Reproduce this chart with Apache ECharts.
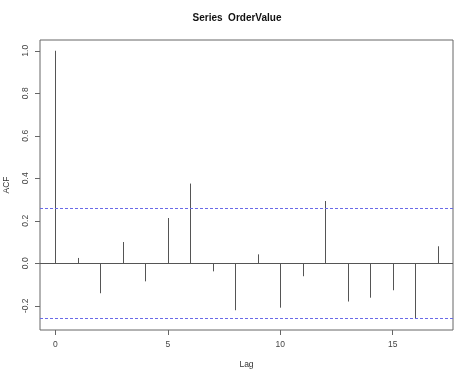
<!DOCTYPE html>
<html><head><meta charset="utf-8">
<script src="https://cdn.jsdelivr.net/npm/echarts@6/dist/echarts.min.js"></script>
<style>html,body{margin:0;padding:0;background:#fff}#c{width:474px;height:380px}</style>
</head><body><div id="c"></div>
<script>
var lags = [0,1,2,3,4,5,6,7,8,9,10,11,12,13,14,15,16,17];
var acfValues = [1.0,0.025,-0.141,0.100,-0.085,0.213,0.375,-0.038,-0.221,0.042,-0.209,-0.061,0.293,-0.180,-0.162,-0.127,-0.262,0.080];
var confLimit = 0.2643;
var xTicks = [0,5,10,15];
var yTicks = [-0.2,0,0.2,0.4,0.6,0.8,1.0];
var titleText = 'Series  OrderValue';

var chart = echarts.init(document.getElementById('c'), null, {renderer:'canvas'});
var font = 'Liberation Sans, Arial, sans-serif';
chart.setOption({
  animation:false,
  backgroundColor:'#fff',
  title:{text:titleText,left:'center',top:8,textStyle:{fontFamily:font,fontSize:10,fontWeight:'bold',color:'#111'}},
  grid:{left:40,right:21,top:40,bottom:50,show:true,borderColor:'#666',borderWidth:1,backgroundColor:'transparent',
    containLabel:false,outerBoundsMode:'none'},
  xAxis:{type:'value',min:-0.68,max:17.68,name:'Lag',nameLocation:'middle',nameGap:30,nameMoveOverlap:false,
    nameTextStyle:{fontFamily:font,fontSize:8.5,color:'#333'},
    axisLine:{show:false,onZero:false},splitLine:{show:false},
    axisTick:{show:true,inside:false,length:5,customValues:xTicks,lineStyle:{color:'#666'}},
    axisLabel:{customValues:xTicks,margin:10,fontFamily:font,fontSize:8.5,color:'#444'}},
  yAxis:{type:'value',min:-0.314,max:1.0506,name:'ACF',nameLocation:'middle',nameGap:29,nameMoveOverlap:false,
    nameTextStyle:{fontFamily:font,fontSize:8.5,color:'#333'},
    axisLine:{show:false,onZero:false},splitLine:{show:false},
    axisTick:{show:true,inside:false,length:5,customValues:yTicks,lineStyle:{color:'#666'}},
    axisLabel:{customValues:yTicks,rotate:90,margin:10,fontFamily:font,fontSize:8.5,color:'#444',
      formatter:function(v){return v.toFixed(1);}}},
  series:[{
    type:'custom',
    data:lags.map(function(l,i){return [l,acfValues[i]];}),
    renderItem:function(params,api){
      var p0=api.coord([api.value(0),0]);
      var p1=api.coord([api.value(0),api.value(1)]);
      return {type:'line',shape:{x1:Math.round(p0[0])+0.5,y1:p0[1],x2:Math.round(p1[0])+0.5,y2:p1[1]},
        style:{stroke:'#555',lineWidth:1}};
    },
    markLine:{silent:true,symbol:'none',label:{show:false},
      data:[
        {yAxis:0,lineStyle:{color:'#555',type:'solid',width:1}},
        {yAxis:confLimit,lineStyle:{color:'#6a6ae8',type:[3,2],width:1}},
        {yAxis:-confLimit,lineStyle:{color:'#6a6ae8',type:[3,2],width:1}}
      ]}
  }]
});
</script></body></html>
